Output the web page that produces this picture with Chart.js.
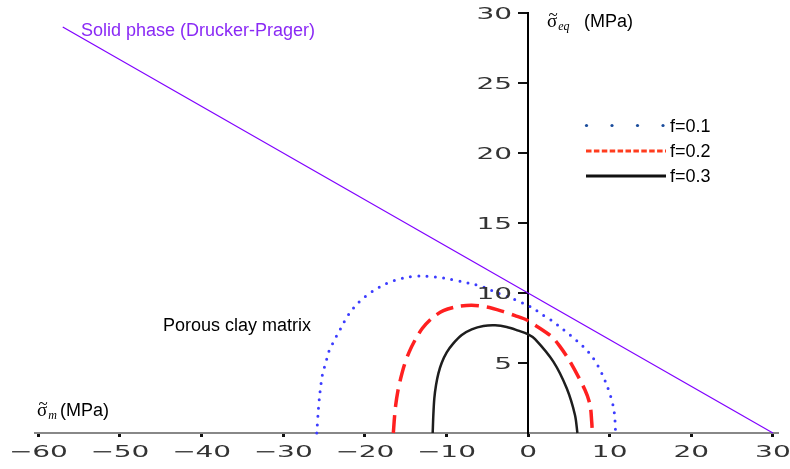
<!DOCTYPE html>
<html>
<head>
<meta charset="utf-8">
<script src="https://cdn.jsdelivr.net/npm/chart.js@4.4.0/dist/chart.umd.min.js"></script>
<style>
    html, body { margin: 0; padding: 0; background: #fff; }
</style>
</head>
<body>
<canvas id="grafico" width="790" height="469"></canvas>
<script>
// Marcas dos eixos
const xTicks = [-60, -50, -40, -30, -20, -10, 0, 10, 20, 30];
const yTicks = [0, 5, 10, 15, 20, 25, 30];

// Reta de Drucker-Prager (fase sólida)
const dpX = [-57, 30];
const dpY = [29, 0];

// Curvas da matriz porosa
const f1X = [-25.88, -25.68, -25.48, -25.2, -24.95, -24.66, -24.38, -23.93, -23.44, -22.9, -22.34, -21.72, -20.99, -20.05, -18.95, -17.72, -16.37, -14.74, -13.02, -11.31, -9.68, -8.05, -6.62, -5.27, -3.96, -2.0, -0.57, 0.65, 1.8, 2.98, 4.12, 5.15, 6.17, 7.19, 8.0, 8.62, 9.23, 9.72, 10.13, 10.45, 10.62, 10.7, 10.72];
const f1Y = [0, 1.71, 2.95, 4.14, 4.69, 5.29, 5.86, 6.4, 6.95, 7.52, 8.14, 8.67, 9.19, 9.69, 10.17, 10.57, 10.9, 11.14, 11.21, 11.14, 11.0, 10.81, 10.62, 10.38, 10.05, 9.62, 9.26, 8.9, 8.43, 8.0, 7.48, 7.0, 6.48, 5.93, 5.33, 4.74, 4.02, 3.31, 2.6, 1.88, 1.17, 0.33, 0];

const f2X = [-16.5, -16.37, -16.21, -15.96, -15.6, -15.15, -14.58, -13.84, -12.94, -11.8, -10.37, -8.74, -6.9, -5.06, -3.22, -1.59, -0.16, 0.86, 2.9, 3.92, 5.15, 6.98, 7.6, 7.8, 7.88];
const f2Y = [0, 1.05, 2.0, 2.95, 3.9, 4.86, 5.76, 6.64, 7.48, 8.19, 8.74, 9.02, 9.12, 9.0, 8.71, 8.38, 8.07, 7.71, 6.88, 6.17, 5.1, 3.07, 2.0, 0.81, 0];

const f3X = [-11.68, -11.6, -11.48, -11.27, -10.98, -10.57, -9.96, -9.15, -8.12, -6.9, -5.47, -4.04, -2.61, -1.19, -0.04, 0.86, 3.1, 4.74, 5.75, 6.05];
const f3Y = [0, 1.29, 2.48, 3.43, 4.26, 5.02, 5.76, 6.4, 7.0, 7.4, 7.64, 7.69, 7.57, 7.31, 7.07, 6.71, 5.1, 3.19, 1.29, 0];

const legendLabels = ['f=0.1', 'f=0.2', 'f=0.3'];

const pares = (xs, ys) => xs.map((x, i) => ({ x: x, y: ys[i] }));

function rotuloTick(v) {
    return v < 0 ? '\u2212' + Math.abs(v) : String(v);
}

// Rótulos dos eixos com fonte "esticada"
const rotulosEixos = {
    id: 'rotulosEixos',
    afterDraw(chart) {
        const ctx = chart.ctx;
        const sx = chart.scales.x;
        const sy = chart.scales.y;
        ctx.save();
        ctx.font = '16px "DejaVu Sans"';
        ctx.fillStyle = '#333';
        ctx.textBaseline = 'alphabetic';
        xTicks.forEach(v => {
            ctx.save();
            ctx.translate(sx.getPixelForValue(v), 457);
            ctx.scale(1.75, 1);
            ctx.textAlign = 'center';
            ctx.fillText(rotuloTick(v), 0, 0);
            ctx.restore();
        });
        const x0 = sx.getPixelForValue(0);
        yTicks.filter(v => v > 0).forEach(v => {
            ctx.save();
            ctx.translate(x0 - 16, sy.getPixelForValue(v) + 6);
            ctx.scale(1.75, 1);
            ctx.textAlign = 'right';
            ctx.fillText(rotuloTick(v), 0, 0);
            ctx.restore();
        });
        ctx.restore();
    }
};

// sigma com til por cima
function sigmaTil(ctx, x, y, sub) {
    ctx.font = '19px "Liberation Serif"';
    ctx.fillText('\u03C3', x, y);
    const w = ctx.measureText('\u03C3').width;
    ctx.save();
    ctx.textAlign = 'center';
    ctx.font = '17px "Liberation Serif"';
    ctx.fillText('~', x + w / 2 + 1, y - 7);
    ctx.restore();
    ctx.font = 'italic 12px "Liberation Serif"';
    ctx.fillText(sub, x + w + 1, y + 3);
}

// Títulos, anotações e legenda
const anotacoes = {
    id: 'anotacoes',
    afterDraw(chart) {
        const ctx = chart.ctx;
        ctx.save();
        ctx.textBaseline = 'alphabetic';
        ctx.textAlign = 'left';
        ctx.fillStyle = '#000';

        // título do eixo y
        sigmaTil(ctx, 547, 27, 'eq');
        ctx.font = '18px "Liberation Sans"';
        ctx.fillText('(MPa)', 584, 27);

        // título do eixo x
        sigmaTil(ctx, 37, 416, 'm');
        ctx.font = '18px "Liberation Sans"';
        ctx.fillText('(MPa)', 60, 416);

        ctx.fillText('Porous clay matrix', 163, 331);
        ctx.fillStyle = '#8a2af5';
        ctx.fillText('Solid phase (Drucker-Prager)', 81, 36);

        // legenda
        const x1 = 586, x2 = 666;
        ctx.fillStyle = '#1a4c9c';
        [586.5, 612, 637.5, 663].forEach(px => {
            ctx.beginPath();
            ctx.arc(px, 125.5, 1.6, 0, Math.PI * 2);
            ctx.fill();
        });
        ctx.lineWidth = 3;
        ctx.strokeStyle = '#ff3c1e';
        ctx.setLineDash([5.5, 2.4]);
        ctx.beginPath();
        ctx.moveTo(x1, 151);
        ctx.lineTo(x2, 151);
        ctx.stroke();
        ctx.setLineDash([]);
        ctx.strokeStyle = '#111';
        ctx.beginPath();
        ctx.moveTo(x1, 176);
        ctx.lineTo(x2, 176);
        ctx.stroke();

        ctx.fillStyle = '#000';
        ctx.font = '18px "Liberation Sans"';
        legendLabels.forEach((t, i) => {
            ctx.fillText(t, 670, 131.5 + i * 25);
        });
        ctx.restore();
    }
};

new Chart(document.getElementById('grafico'), {
    type: 'scatter',
    data: {
        datasets: [
            {
                label: legendLabels[0],
                data: pares(f1X, f1Y),
                showLine: true,
                borderColor: '#3c3cff',
                borderWidth: 3,
                borderDash: [0, 8.3],
                borderCapStyle: 'round',
                tension: 0.3,
                pointRadius: 0,
                clip: false
            },
            {
                label: legendLabels[1],
                data: pares(f2X, f2Y),
                showLine: true,
                borderColor: '#ff2020',
                borderWidth: 3.5,
                borderDash: [18, 8],
                tension: 0.3,
                pointRadius: 0,
                clip: false
            },
            {
                label: legendLabels[2],
                data: pares(f3X, f3Y),
                showLine: true,
                borderColor: '#1e1e1e',
                borderWidth: 2.5,
                tension: 0.3,
                pointRadius: 0,
                clip: false
            },
            {
                label: 'Drucker-Prager',
                data: pares(dpX, dpY),
                showLine: true,
                borderColor: '#8000ff',
                borderWidth: 1.2,
                tension: 0,
                pointRadius: 0,
                clip: false
            }
        ]
    },
    options: {
        responsive: false,
        animation: false,
        layout: {
            padding: { left: 35, right: 13, top: 13, bottom: 36 }
        },
        elements: {
            line: { capBezierPoints: false }
        },
        plugins: {
            legend: { display: false },
            tooltip: { enabled: false }
        },
        scales: {
            x: {
                type: 'linear',
                position: 'bottom',
                min: -60.4,
                max: 30.5,
                afterBuildTicks: s => { s.ticks = xTicks.map(v => ({ value: v })); },
                afterFit: s => { s.height = 0; },
                ticks: { display: false },
                grid: { drawOnChartArea: false, drawTicks: true, tickLength: 4, color: '#111', lineWidth: 3 },
                border: { color: '#888', width: 2 }
            },
            y: {
                type: 'linear',
                position: { x: 0 },
                min: 0,
                max: 30,
                afterBuildTicks: s => { s.ticks = yTicks.map(v => ({ value: v })); },
                afterFit: s => { s.width = 0; },
                ticks: { display: false },
                grid: { drawOnChartArea: false, drawTicks: true, tickLength: 9, color: '#111', lineWidth: 2 },
                border: { color: '#000', width: 2 }
            }
        }
    },
    plugins: [rotulosEixos, anotacoes]
});
</script>
</body>
</html>
